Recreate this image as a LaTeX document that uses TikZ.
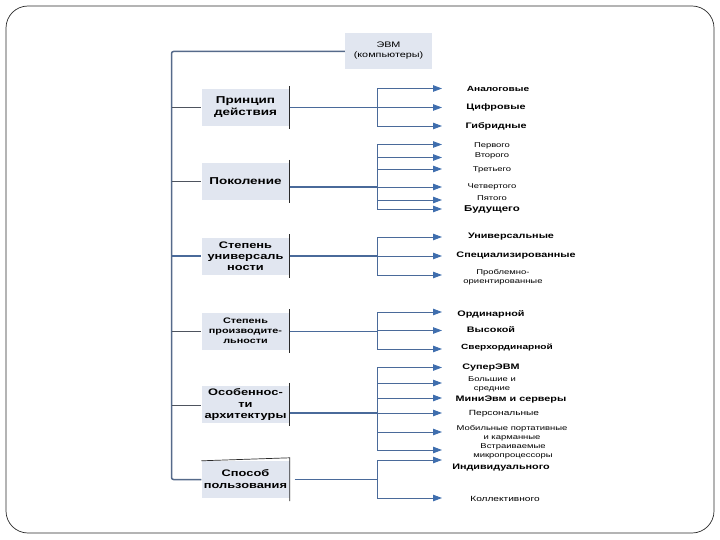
\documentclass[tikz,border=0pt]{standalone}
\usepackage{fontspec}
\setmainfont{Liberation Sans}[FakeStretch=1.35]
\usepackage{xcolor}
\usepackage{tikz}
\usetikzlibrary{arrows.meta,positioning,calc}
\definecolor{boxfill}{HTML}{E1E6F0}
\definecolor{wireblue}{HTML}{4A6A9A}
\definecolor{spine}{HTML}{556A8A}
\definecolor{tipblue}{HTML}{3F6EAE}
\definecolor{greyline}{HTML}{4E545E}
\definecolor{frame}{HTML}{2A2A2A}
% leaf: name, branch, arrow y, label x, label y, style, text
\newcommand{\leafnode}[7]{%
  \node[#6] (#1) at (#4,#5) {#7};
  \coordinate (#1t) at (442,#3);
  \draw[arr] (#2 |- #1t) -- (#1t);}

\begin{document}
\begin{tikzpicture}[x=1pt,y=-1pt,
   crit/.style={fill=boxfill,minimum width=88pt,minimum height=37pt,inner sep=1pt,align=center,
     font=\bfseries\fontsize{10}{12}\selectfont},
   rootbox/.style={fill=boxfill,minimum width=87pt,minimum height=36pt,align=center,
     font=\fontsize{8}{10}\selectfont},
   edge/.style={draw=frame,line width=0.7pt},
   wire/.style={draw=wireblue,line width=0.9pt},
   bus/.style={draw=wireblue,line width=1.6pt},
   greywire/.style={draw=greyline,line width=0.7pt},
   arr/.style={draw=wireblue,line width=0.9pt,-{Triangle[length=9pt,width=6.5pt,fill=tipblue,color=tipblue]}},
   lb/.style={align=center,inner sep=0pt,font=\bfseries\fontsize{8}{9.5}\selectfont},
   ls/.style={align=center,inner sep=0pt,font=\fontsize{7}{9}\selectfont}]
  \useasboundingbox (0,0) rectangle (720,540);
  \draw[frame,line width=0.7pt,rounded corners=22pt] (6,6) rectangle (714,533);

  % root and criteria
  \node[rootbox] (evm) at (388.5,51) {ЭВМ\\(компьютеры)};
  \node[crit] (c1) at (245.5,107.5) {Принцип\\действия};
  \node[crit] (c2) at (245.5,181.5) {Поколение};
  \node[crit,font=\bfseries\fontsize{9.5}{11}\selectfont] (c3) at (245.5,256) {Степень\\универсаль\\ности};
  \node[crit,font=\bfseries\fontsize{8}{10}\selectfont] (c4) at (245.5,331) {Степень\\производите-\\льности};
  \node[crit,font=\bfseries\fontsize{9.5}{11.5}\selectfont] (c5) at (245.5,404.5) {Особеннос-\\ти\\архитектуры};
  \node[crit,font=\bfseries\fontsize{9.5}{12}\selectfont] (c6) at (245.5,479.5) {Способ\\пользования};
  \draw[edge] ([yshift=3pt]c1.north east) -- ([yshift=-3pt]c1.south east);
  \draw[edge] ([yshift=3pt]c2.north east) -- ([yshift=-3pt]c2.south east);
  \draw[edge] ([yshift=3pt]c3.north east) -- ([yshift=-3pt]c3.south east);
  \draw[edge] ([yshift=3pt]c4.north east) -- ([yshift=-3pt]c4.south east);
  \draw[edge] ([yshift=3pt]c5.north east) -- ([yshift=-3pt]c5.south east);
  \draw[edge] (c6.north west) -- ([yshift=3pt]c6.north east) -- ([yshift=-3pt]c6.south east);

  % spine
  \coordinate (m0) at (171.5,51.5);
  \draw[draw=spine,line width=1.5pt,rounded corners=2pt] (evm.west |- m0) -- (m0) -- (m0 |- c6) -- (c6.west);
  \draw[greywire] (m0 |- c1) -- (c1.west);
  \draw[greywire] (m0 |- c2) -- (c2.west);
  \draw[bus] (m0 |- c3) -- (c3.west);
  \draw[greywire] (m0 |- c4) -- (c4.west);
  \draw[greywire] (m0 |- 0,405) -- (c5.west |- 0,405);

  % branch points
  \coordinate (b1) at (377,107.5);
  \coordinate (b2) at (377,187);
  \coordinate (b3) at (377,256);
  \coordinate (b4) at (377,331);
  \coordinate (b5) at (377,413);
  \coordinate (b6) at (377,479.5);
  \draw[wire] (c1.east) -- (b1);
  \draw[bus] (c2.east |- b2) -- (b2);
  \draw[bus] (c3.east) -- (b3);
  \draw[wire] (c4.east) -- (b4);
  \draw[bus] (c5.east |- b5) -- (b5);
  \draw[bus] ([xshift=5pt]c6.east) -- (b6);

  % Принцип действия
  \leafnode{l11}{b1}{88.5}{498}{89}{lb,font=\bfseries\fontsize{7.5}{9}\selectfont}{Аналоговые}
  \leafnode{l12}{b1}{107.5}{496}{107.5}{lb}{Цифровые}
  \leafnode{l13}{b1}{126}{496}{126}{lb}{Гибридные}
  \draw[wire] (b1 |- l11t) -- (b1 |- l13t);

  % Поколение
  \leafnode{l21}{b2}{144.5}{492}{146}{ls}{Первого}
  \leafnode{l22}{b2}{157.5}{492}{155.5}{ls}{Второго}
  \leafnode{l23}{b2}{169}{492}{170}{ls}{Третьего}
  \leafnode{l24}{b2}{187}{492}{186.5}{ls}{Четвертого}
  \leafnode{l25}{b2}{200}{492}{198}{ls}{Пятого}
  \leafnode{l26}{b2}{209}{492}{209.5}{lb,font=\bfseries\fontsize{8.5}{10}\selectfont}{Будущего}
  \draw[wire] (b2 |- l21t) -- (b2 |- l26t);

  % Степень универсальности
  \leafnode{l31}{b3}{237}{511}{237}{lb}{Универсальные}
  \leafnode{l32}{b3}{256}{516}{256}{lb}{Специализированные}
  \leafnode{l33}{b3}{275}{503}{277.5}{ls}{Проблемно-\\ориентированные}
  \draw[wire] (b3 |- l31t) -- (b3 |- l33t);

  % Степень производительности
  \leafnode{l41}{b4}{312}{491}{314}{lb}{Ординарной}
  \leafnode{l42}{b4}{330.5}{491}{330}{lb}{Высокой}
  \leafnode{l43}{b4}{349}{507}{347}{lb,font=\bfseries\fontsize{7.5}{9}\selectfont}{Сверхординарной}
  \draw[wire] (b4 |- l41t) -- (b4 |- l43t);

  % Особенности архитектуры
  \leafnode{l51}{b5}{367.5}{491}{368}{lb}{СуперЭВМ}
  \leafnode{l52}{b5}{383}{492}{384.5}{ls}{Большие и\\средние}
  \leafnode{l53}{b5}{398}{511}{400}{lb}{МиниЭвм и серверы}
  \leafnode{l54}{b5}{413}{504}{414}{ls,font=\fontsize{7.5}{9}\selectfont}{Персональные}
  \leafnode{l55}{b5}{432}{512}{433}{ls}{Мобильные портативные\\и карманные}
  \leafnode{l56}{b5}{450}{513}{451.5}{ls}{Встраиваемые\\микропроцессоры}
  \draw[wire] (b5 |- l51t) -- (b5 |- l56t);

  % Способ пользования
  \leafnode{l61}{b6}{460}{501}{468}{lb}{Индивидуального}
  \leafnode{l62}{b6}{498}{505}{498.5}{ls,font=\fontsize{7.5}{9}\selectfont}{Коллективного}
  \draw[wire] (b6 |- l61t) -- (b6 |- l62t);
\end{tikzpicture}
\end{document}
